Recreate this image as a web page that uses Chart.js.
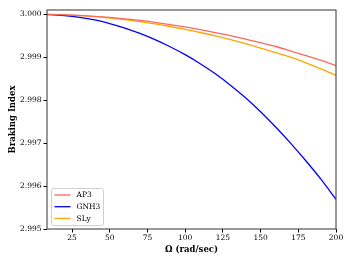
<!DOCTYPE html>
<html>
<head>
<meta charset="utf-8">
<script src="https://cdn.jsdelivr.net/npm/chart.js@4"></script>
<style>
  html, body { margin: 0; padding: 0; background: #fff; }
  #wrap { width: 352px; height: 264px; }
</style>
</head>
<body>
<div id="wrap"><canvas id="brakingChart" width="352" height="264"></canvas></div>
<script>
// values
const omega = [0, 10, 20, 30, 40, 50, 60, 70, 80, 90, 100, 110, 120, 130, 140, 150, 160, 170, 180, 190, 200];
const ap3 = [3.000000, 2.999997, 2.999988, 2.999973, 2.999953, 2.999926, 2.999894, 2.999856, 2.999811, 2.999761,
    2.999705, 2.999643, 2.999575, 2.999501, 2.999422, 2.999340, 2.999250, 2.999145, 2.999040, 2.998930, 2.998805];
const gnh3 = [3.000000, 2.999990, 2.999970, 2.999930, 2.999870, 2.999785, 2.999680, 2.999555, 2.999410, 2.999245,
    2.999060, 2.998850, 2.998615, 2.998350, 2.998055, 2.997730, 2.997375, 2.996995, 2.996590, 2.996160, 2.995690];
const sly = [3.000000, 2.999996, 2.999986, 2.999968, 2.999944, 2.999912, 2.999874, 2.999828, 2.999776, 2.999716,
    2.999650, 2.999576, 2.999497, 2.999410, 2.999315, 2.999215, 2.999110, 2.999000, 2.998870, 2.998730, 2.998580];
const xTicks = [25, 50, 75, 100, 125, 150, 175, 200];
const yTicks = [2.995, 2.996, 2.997, 2.998, 2.999, 3.000];

const serif = "'DejaVu Serif', serif";

const toPoints = ys => omega.map((x, i) => ({ x: x, y: ys[i] }));

// frame around the plot area + legend inside lower left
const framePlugin = {
    id: 'frame',
    afterDraw(chart) {
        const ctx = chart.ctx;
        const a = chart.chartArea;
        ctx.save();
        ctx.strokeStyle = '#333';
        ctx.lineWidth = 1;
        ctx.strokeRect(a.left, a.top, a.right - a.left, a.bottom - a.top);

        // legend box
        const bx = a.left + 4.5, by = a.bottom - 40.5, bw = 52, bh = 37;
        ctx.fillStyle = 'rgba(255,255,255,0.8)';
        ctx.strokeStyle = '#d0d0d0';
        ctx.lineWidth = 1;
        ctx.beginPath();
        ctx.roundRect(bx, by, bw, bh, 2);
        ctx.fill();
        ctx.stroke();

        ctx.font = '7.5px ' + serif;
        ctx.textBaseline = 'middle';
        chart.data.datasets.forEach((ds, i) => {
            const yy = by + 6.5 + i * 11.7;
            ctx.strokeStyle = ds.borderColor;
            ctx.lineWidth = 1.3;
            ctx.beginPath();
            ctx.moveTo(bx + 3, yy);
            ctx.lineTo(bx + 19, yy);
            ctx.stroke();
            ctx.fillStyle = '#000';
            ctx.fillText(ds.label, bx + 25, yy + 0.5);
        });
        ctx.restore();
    }
};

const ctx = document.getElementById('brakingChart').getContext('2d');
const brakingChart = new Chart(ctx, {
    type: 'line',
    data: {
        datasets: [{
            label: 'AP3',
            data: toPoints(ap3),
            borderColor: '#fa6a5c',
            borderWidth: 1.3,
            pointRadius: 0,
            cubicInterpolationMode: 'monotone'
        }, {
            label: 'GNH3',
            data: toPoints(gnh3),
            borderColor: '#0000ff',
            borderWidth: 1.3,
            pointRadius: 0,
            cubicInterpolationMode: 'monotone'
        }, {
            label: 'SLy',
            data: toPoints(sly),
            borderColor: '#ffa500',
            borderWidth: 1.3,
            pointRadius: 0,
            cubicInterpolationMode: 'monotone'
        }]
    },
    options: {
        responsive: false,
        animation: false,
        layout: {
            padding: { top: 10, right: 16, left: 8, bottom: 9 }
        },
        plugins: {
            legend: { display: false },
            tooltip: { enabled: false }
        },
        scales: {
            x: {
                type: 'linear',
                min: 8.4,
                max: 200,
                afterBuildTicks: scale => {
                    scale.ticks = xTicks.map(v => ({ value: v }));
                },
                afterFit: scale => {
                    scale.height = 26;
                },
                grid: {
                    drawOnChartArea: false,
                    drawTicks: true,
                    tickLength: 3.5,
                    color: '#000'
                },
                border: { display: false },
                ticks: {
                    color: '#000',
                    padding: 1.5,
                    maxRotation: 0,
                    autoSkip: false,
                    font: { family: serif, size: 7.5 },
                    callback: v => String(v)
                },
                title: {
                    display: true,
                    text: 'Ω (rad/sec)',
                    color: '#000',
                    padding: 0,
                    font: { family: serif, size: 8.5, weight: 'bold' }
                }
            },
            y: {
                min: 2.995,
                max: 3.0001,
                afterBuildTicks: scale => {
                    scale.ticks = yTicks.map(v => ({ value: v }));
                },
                afterFit: scale => {
                    scale.width = 39;
                },
                grid: {
                    drawOnChartArea: false,
                    drawTicks: true,
                    tickLength: 3.5,
                    color: '#000'
                },
                border: { display: false },
                ticks: {
                    color: '#000',
                    padding: 2,
                    autoSkip: false,
                    font: { family: serif, size: 7.5 },
                    callback: v => Number(v).toFixed(3)
                },
                title: {
                    display: true,
                    text: 'Braking Index',
                    color: '#000',
                    padding: 0,
                    font: { family: serif, size: 8.5, weight: 'bold' }
                }
            }
        }
    },
    plugins: [framePlugin]
});
</script>
</body>
</html>
